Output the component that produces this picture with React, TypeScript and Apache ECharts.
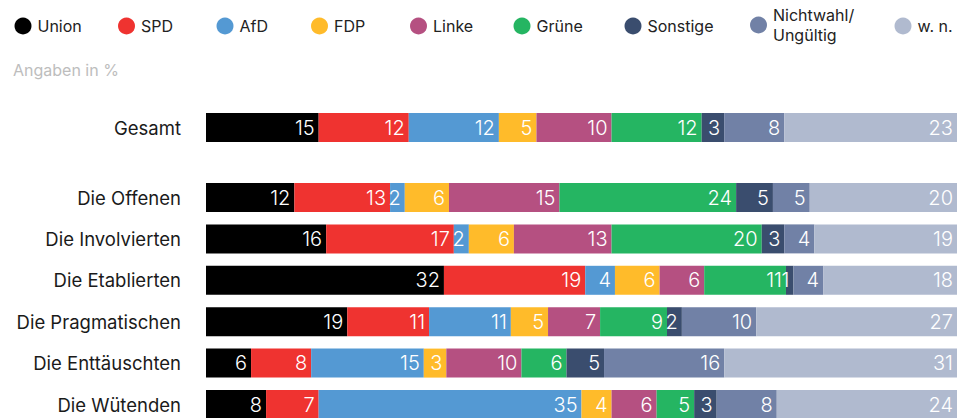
import React, { useEffect, useRef } from 'react';
import * as echarts from 'echarts';

const parties = ['Union', 'SPD', 'AfD', 'FDP', 'Linke', 'Grüne', 'Sonstige', 'Nichtwahl/Ungültig', 'w. n.'];
const partyColors = ['#000000', '#ef3330', '#5499d3', '#ffbb2a', '#b55081', '#25b562', '#3a4d6e', '#7181a6', '#b0bacf'];

const totalCategory = ['Gesamt'];
const groupCategories = ['Die Offenen', 'Die Involvierten', 'Die Etablierten', 'Die Pragmatischen', 'Die Enttäuschten', 'Die Wütenden'];

// index 0 = Gesamt, then the six groups
const union = [15, 12, 16, 32, 19, 6, 8];
const spd = [12, 13, 17, 19, 11, 8, 7];
const afd = [12, 2, 2, 4, 11, 15, 35];
const fdp = [5, 6, 6, 6, 5, 3, 4];
const linke = [10, 15, 13, 6, 7, 10, 6];
const gruene = [12, 24, 20, 11, 9, 6, 5];
const sonstige = [3, 5, 3, 1, 2, 5, 3];
const nichtwahl = [8, 5, 4, 4, 10, 16, 8];
const wn = [23, 20, 19, 18, 27, 31, 24];

const values = [union, spd, afd, fdp, linke, gruene, sonstige, nichtwahl, wn];

const legendLefts = [14.5, 118, 216.5, 311, 410, 513.5, 624.5, 750, 894.5];

const FONT = 'Inter, "Noto Sans", sans-serif';

export default function App() {
  const ref = useRef<HTMLDivElement>(null);
  useEffect(() => {
    if (!ref.current) return;
    const chart = echarts.init(ref.current, undefined, { renderer: 'svg' });
    const nRows = union.length;
    const rowSums: number[] = [];
    for (let i = 0; i < nRows; i++) {
      let s = 0;
      values.forEach((v) => (s += v[i]));
      rowSums.push(s);
    }
    const series: any[] = [];
    parties.forEach((name, p) => {
      const mk = (grid: number) => {
        const idxs = grid === 0 ? [0] : [1, 2, 3, 4, 5, 6];
        return {
          type: 'bar',
          name,
          stack: 'g' + grid,
          xAxisIndex: grid,
          yAxisIndex: grid,
          barWidth: 29,
          color: partyColors[p],
          data: idxs.map((i) => ({ value: (values[p][i] / rowSums[i]) * 100, raw: values[p][i] })),
          label: {
            show: true,
            position: 'insideRight',
            distance: 4,
            color: '#ffffff',
            fontSize: 20,
            fontFamily: FONT,
            fontWeight: 300,
            formatter: (prm: any) => String(prm.data.raw),
          },
          emphasis: { disabled: true },
        };
      };
      series.push(mk(0));
      series.push(mk(1));
    });

    const legends = parties.map((name, p) => ({
      data: [name],
      left: legendLefts[p],
      top: name === 'Nichtwahl/Ungültig' ? 5 : 16,
      padding: 0,
      icon: 'circle',
      itemWidth: 17,
      itemHeight: 17,
      itemGap: 0,
      selectedMode: false,
      textStyle: {
        fontSize: 16,
        color: '#222222',
        fontFamily: FONT,
        lineHeight: 20,
        padding: [0, 0, 0, 1],
      },
      formatter: (n: string) => (n === 'Nichtwahl/Ungültig' ? 'Nichtwahl/\nUngültig' : n),
    }));

    const yLabel = {
      fontSize: 18.5,
      color: '#1a1a1a',
      fontFamily: FONT,
      margin: 25,
    };

    chart.setOption({
      animation: false,
      legend: legends,
      graphic: [
        {
          type: 'text',
          left: 13,
          top: 62,
          style: { text: 'Angaben in %', fontSize: 16, fill: '#bdbdbd', fontFamily: FONT },
        },
      ],
      grid: [
        { left: 206, right: 0, top: 106.8, height: 41.4, outerBoundsMode: 'none', containLabel: false },
        { left: 206, right: 0, top: 176.8, height: 248.4, outerBoundsMode: 'none', containLabel: false },
      ],
      xAxis: [0, 1].map((g) => ({
        type: 'value',
        gridIndex: g,
        min: 0,
        max: 100,
        show: false,
      })),
      yAxis: [
        {
          type: 'category',
          gridIndex: 0,
          data: totalCategory,
          inverse: true,
          axisLine: { show: false },
          axisTick: { show: false },
          axisLabel: yLabel,
        },
        {
          type: 'category',
          gridIndex: 1,
          data: groupCategories,
          inverse: true,
          axisLine: { show: false },
          axisTick: { show: false },
          axisLabel: yLabel,
        },
      ],
      series,
    });
    return () => chart.dispose();
  }, []);
  return <div ref={ref} style={{ position: 'fixed', left: 0, top: 0, width: 957, height: 418, background: '#fff' }} />;
}
